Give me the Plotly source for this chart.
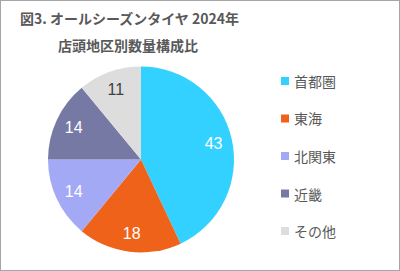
import plotly.graph_objects as go

labels = ["首都圏", "東海", "北関東", "近畿", "その他"]
values = [43, 18, 14, 14, 11]
colors = ["#33D1FF", "#EF6219", "#A4A9F5", "#7779A5", "#DDDDDD"]
text_colors = ["white", "white", "white", "white", "#404040"]
title_line1 = "図3. オールシーズンタイヤ 2024年"
title_line2 = "店頭地区別数量構成比"

W, H = 400, 271
FONT = "Noto Sans CJK JP, Noto Sans, sans-serif"
NUMFONT = "Liberation Sans, Arial, sans-serif"
dom = dict(x=[48 / W, 234 / W], y=[18 / H, 205 / H])

fig = go.Figure()
# coloured slices
fig.add_trace(go.Pie(
    labels=labels, values=values, sort=False, direction="clockwise", rotation=0,
    marker=dict(colors=colors, line=dict(width=0)),
    textinfo="none", domain=dom, showlegend=False, hoverinfo="label+value",
))
# value labels, placed in the outer ring of the same slices
fig.add_trace(go.Pie(
    labels=labels, values=values, sort=False, direction="clockwise", rotation=0,
    hole=0.6,
    marker=dict(colors=["rgba(0,0,0,0)"] * len(values), line=dict(width=0)),
    texttemplate="%{value}", textinfo="value", textposition="inside",
    insidetextorientation="horizontal",
    textfont=dict(family=NUMFONT, size=16, color=text_colors),
    domain=dom, showlegend=False, hoverinfo="skip",
))

shapes = [dict(type="rect", xref="paper", yref="paper", x0=0, y0=0, x1=1, y1=1,
               line=dict(color="#A6A6A6", width=2), fillcolor="rgba(0,0,0,0)")]
annotations = [
    dict(text=title_line1, x=129 / W, y=1 - 18 / H, xref="paper", yref="paper",
         showarrow=False, xanchor="center", yanchor="middle",
         font=dict(family=FONT, size=14, color="#595959", weight="bold")),
    dict(text=title_line2, x=128 / W, y=1 - 45 / H, xref="paper", yref="paper",
         showarrow=False, xanchor="center", yanchor="middle",
         font=dict(family=FONT, size=14, color="#595959", weight="bold")),
]
# legend drawn manually (evenly spaced rows)
y0, dy = 81, 37.5
for i, (lab, col) in enumerate(zip(labels, colors)):
    yc = y0 + i * dy
    shapes.append(dict(type="rect", xref="paper", yref="paper",
                       x0=281 / W, x1=289 / W, y0=1 - (yc + 4) / H, y1=1 - (yc - 4) / H,
                       fillcolor=col, line=dict(width=0)))
    annotations.append(dict(text=lab, x=292 / W, y=1 - yc / H, xref="paper", yref="paper",
                            showarrow=False, xanchor="left", yanchor="middle",
                            font=dict(family=FONT, size=14, color="#595959")))

fig.update_layout(
    width=W, height=H, margin=dict(l=0, r=0, t=0, b=0),
    paper_bgcolor="white", plot_bgcolor="white",
    shapes=shapes, annotations=annotations,
)
fig.write_html("out.html")
